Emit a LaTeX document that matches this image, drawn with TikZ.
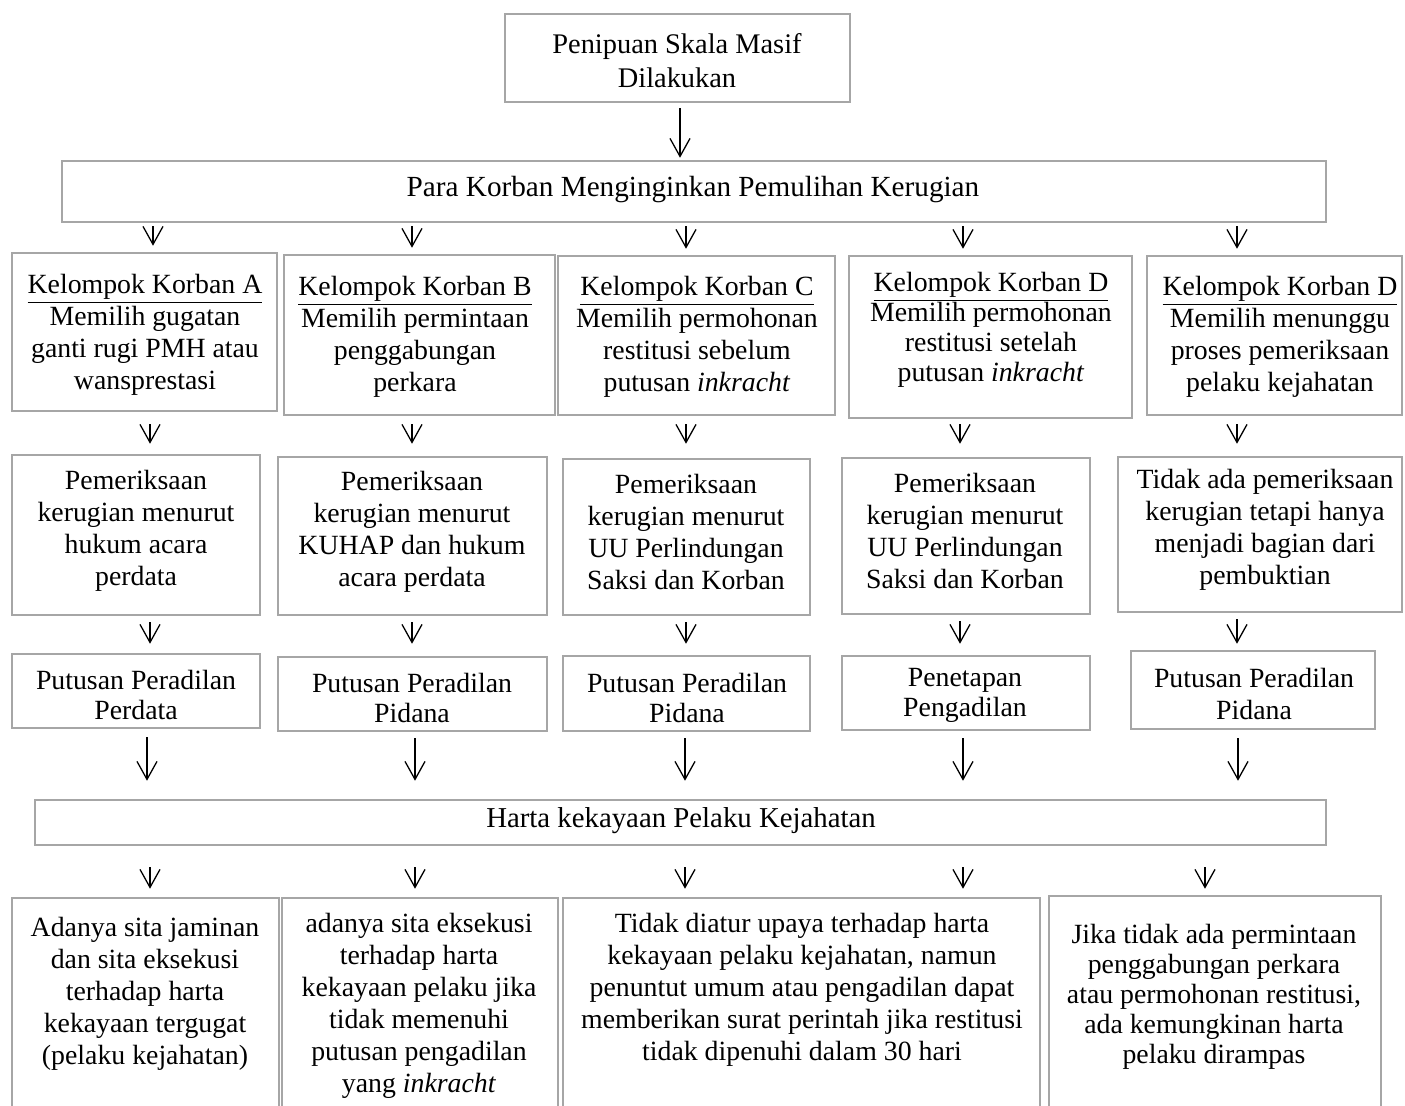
\documentclass[tikz,border=0pt]{standalone}
\usepackage{fontspec}
\setmainfont{Liberation Serif}
\usetikzlibrary{arrows.meta,fit}
\definecolor{boxgray}{HTML}{A6A6A6}
\begin{document}
\begin{tikzpicture}[x=0.5pt,y=-0.5pt,
  box/.style={draw=boxgray,line width=1.25pt,inner sep=0pt,fit={#1}},
  txt/.style={align=center,inner sep=0pt,font=\fontsize{13.9}{16}\selectfont},
  txtb/.style={align=center,inner sep=0pt,font=\fontsize{13.9}{15}\selectfont},
  arr/.style={-{Straight Barb[length=9pt,width=10pt]},line width=0.65pt}]
\useasboundingbox (0,0) rectangle (1405,1106);
\clip (0,0) rectangle (1405,1106);

% top
\node[box={(505,14)(850,102)}] (top) {};
\node[txt,font=\fontsize{14.2}{17}\selectfont] (topT) at (677,61) {Penipuan Skala Masif\\Dilakukan};
\node[box={(62,161)(1326,222)}] (para) {};
\node[txt,font=\fontsize{14.6}{16}\selectfont] (paraT) at (693,190) {Para Korban Menginginkan Pemulihan Kerugian};

% row 1
\node[box={(12,253)(277,411)}] (r1a) {};
\node[txt] (r1aT) at (145,335) {\underline{Kelompok Korban A}\\Memilih gugatan\\ganti rugi PMH atau\\wansprestasi};
\node[box={(284,255)(555,415)}] (r1b) {};
\node[txt] (r1bT) at (415,337) {\underline{Kelompok Korban B}\\Memilih permintaan\\penggabungan\\perkara};
\node[box={(558,256)(835,415)}] (r1c) {};
\node[txt] (r1cT) at (697,337) {\underline{Kelompok Korban C}\\Memilih permohonan\\restitusi sebelum\\putusan \textit{inkracht}};
\node[box={(849,256)(1132,418)}] (r1d) {};
\node[txtb] (r1dT) at (991,330) {\underline{Kelompok Korban D}\\Memilih permohonan\\restitusi setelah\\putusan \textit{inkracht}};
\node[box={(1147,256)(1402,415)}] (r1e) {};
\node[txt] (r1eT) at (1280,337) {\underline{Kelompok Korban D}\\Memilih menunggu\\proses pemeriksaan\\pelaku kejahatan};

% row 2
\node[box={(12,455)(260,615)}] (r2a) {};
\node[txt] (r2aT) at (136,531) {Pemeriksaan\\kerugian menurut\\hukum acara\\perdata};
\node[box={(278,457)(547,615)}] (r2b) {};
\node[txt] (r2bT) at (412,532) {Pemeriksaan\\kerugian menurut\\KUHAP dan hukum\\acara perdata};
\node[box={(563,459)(810,615)}] (r2c) {};
\node[txt] (r2cT) at (686,532) {Pemeriksaan\\kerugian menurut\\UU Perlindungan\\Saksi dan Korban};
\node[box={(842,458)(1090,614)}] (r2d) {};
\node[txt] (r2dT) at (965,531) {Pemeriksaan\\kerugian menurut\\UU Perlindungan\\Saksi dan Korban};
\node[box={(1118,457)(1402,612)}] (r2e) {};
\node[txt] (r2eT) at (1265,530) {Tidak ada pemeriksaan\\kerugian tetapi hanya\\menjadi bagian dari\\pembuktian};

% row 3
\node[box={(12,654)(260,728)}] (r3a) {};
\node[txtb] (r3aT) at (136,695) {Putusan Peradilan\\Perdata};
\node[box={(278,657)(547,731)}] (r3b) {};
\node[txtb] (r3bT) at (412,698) {Putusan Peradilan\\Pidana};
\node[box={(563,656)(810,731)}] (r3c) {};
\node[txtb] (r3cT) at (687,698) {Putusan Peradilan\\Pidana};
\node[box={(842,656)(1090,730)}] (r3d) {};
\node[txtb] (r3dT) at (965,695) {Penetapan\\Pengadilan};
\node[box={(1131,651)(1375,729)}] (r3e) {};
\node[txt] (r3eT) at (1254,694) {Putusan Peradilan\\Pidana};

% harta
\node[box={(35,800)(1326,845)}] (harta) {};
\node[txt,font=\fontsize{14.4}{16}\selectfont] (hartaT) at (681,821) {Harta kekayaan Pelaku Kejahatan};

% bottom
\node[box={(12,898)(279,1140)}] (b1) {};
\node[txt] (b1T) at (145,994) {Adanya sita jaminan\\dan sita eksekusi\\terhadap harta\\kekayaan tergugat\\(pelaku kejahatan)};
\node[box={(282,898)(558,1140)}] (b2) {};
\node[txt] (b2T) at (419,1006) {adanya sita eksekusi\\terhadap harta\\kekayaan pelaku jika\\tidak memenuhi\\putusan pengadilan\\yang \textit{inkracht}};
\node[box={(563,898)(1040,1140)}] (b3) {};
\node[txt] (b3T) at (802,990) {Tidak diatur upaya terhadap harta\\kekayaan pelaku kejahatan, namun\\penuntut umum atau pengadilan dapat\\memberikan surat perintah jika restitusi\\tidak dipenuhi dalam 30 hari};
\node[box={(1049,896)(1381,1140)}] (b4) {};
\node[txtb] (b4T) at (1214,997) {Jika tidak ada permintaan\\penggabungan perkara\\atau permohonan restitusi,\\ada kemungkinan harta\\pelaku dirampas};

% arrow x positions
\coordinate (x0) at (680,0);
\coordinate (p1) at (153,0); \coordinate (p2) at (412,0); \coordinate (p3) at (686,0);
\coordinate (p4) at (963,0); \coordinate (p5) at (1237,0);
\coordinate (q1) at (150,0); \coordinate (q4) at (960,0);
\coordinate (s1) at (147,0); \coordinate (s2) at (415,0); \coordinate (s3) at (685,0);
\coordinate (s5) at (1238,0);
\coordinate (t1) at (150,0); \coordinate (t5) at (1205,0);

\draw[arr,shorten <=2.5pt,shorten >=1pt] (top.south -| x0) -- (para.north -| x0);

\draw[arr,shorten <=1.5pt,shorten >=3pt] (para.south -| p1) -- (r1a.north -| p1);
\draw[arr,shorten <=1.5pt,shorten >=3pt] (para.south -| p2) -- (r1b.north -| p2);
\draw[arr,shorten <=1.5pt,shorten >=3pt] (para.south -| p3) -- (r1c.north -| p3);
\draw[arr,shorten <=1.5pt,shorten >=3pt] (para.south -| p4) -- (r1d.north -| p4);
\draw[arr,shorten <=1.5pt,shorten >=3pt] (para.south -| p5) -- (r1e.north -| p5);

\draw[arr,shorten <=6pt,shorten >=5pt] (r1a.south -| q1) -- (r2a.north -| q1);
\draw[arr,shorten <=4pt,shorten >=6pt] (r1b.south -| p2) -- (r2b.north -| p2);
\draw[arr,shorten <=4pt,shorten >=7pt] (r1c.south -| p3) -- (r2c.north -| p3);
\draw[arr,shorten <=2.5pt,shorten >=6.5pt] (r1d.south -| q4) -- (r2d.north -| q4);
\draw[arr,shorten <=4pt,shorten >=6pt] (r1e.south -| p5) -- (r2e.north -| p5);

\draw[arr,shorten <=3pt,shorten >=4.5pt] (r2a.south -| q1) -- (r3a.north -| q1);
\draw[arr,shorten <=3pt,shorten >=6pt] (r2b.south -| p2) -- (r3b.north -| p2);
\draw[arr,shorten <=3pt,shorten >=5.5pt] (r2c.south -| p3) -- (r3c.north -| p3);
\draw[arr,shorten <=3pt,shorten >=5.5pt] (r2d.south -| q4) -- (r3d.north -| q4);
\draw[arr,shorten <=3pt,shorten >=3pt] (r2e.south -| p5) -- (r3e.north -| p5);

\draw[arr,shorten <=4pt,shorten >=9pt] (r3a.south -| s1) -- (harta.north -| s1);
\draw[arr,shorten <=3pt,shorten >=9pt] (r3b.south -| s2) -- (harta.north -| s2);
\draw[arr,shorten <=3pt,shorten >=9pt] (r3c.south -| s3) -- (harta.north -| s3);
\draw[arr,shorten <=3.5pt,shorten >=9pt] (r3d.south -| p4) -- (harta.north -| p4);
\draw[arr,shorten <=4pt,shorten >=9pt] (r3e.south -| s5) -- (harta.north -| s5);

\draw[arr,shorten <=10.5pt,shorten >=4pt] (harta.south -| t1) -- (b1.north -| t1);
\draw[arr,shorten <=10.5pt,shorten >=4pt] (harta.south -| s2) -- (b2.north -| s2);
\draw[arr,shorten <=10.5pt,shorten >=4pt] (harta.south -| s3) -- (b3.north -| s3);
\draw[arr,shorten <=10.5pt,shorten >=4pt] (harta.south -| p4) -- (b3.north -| p4);
\draw[arr,shorten <=10.5pt,shorten >=3pt] (harta.south -| t5) -- (b4.north -| t5);
\end{tikzpicture}
\end{document}
